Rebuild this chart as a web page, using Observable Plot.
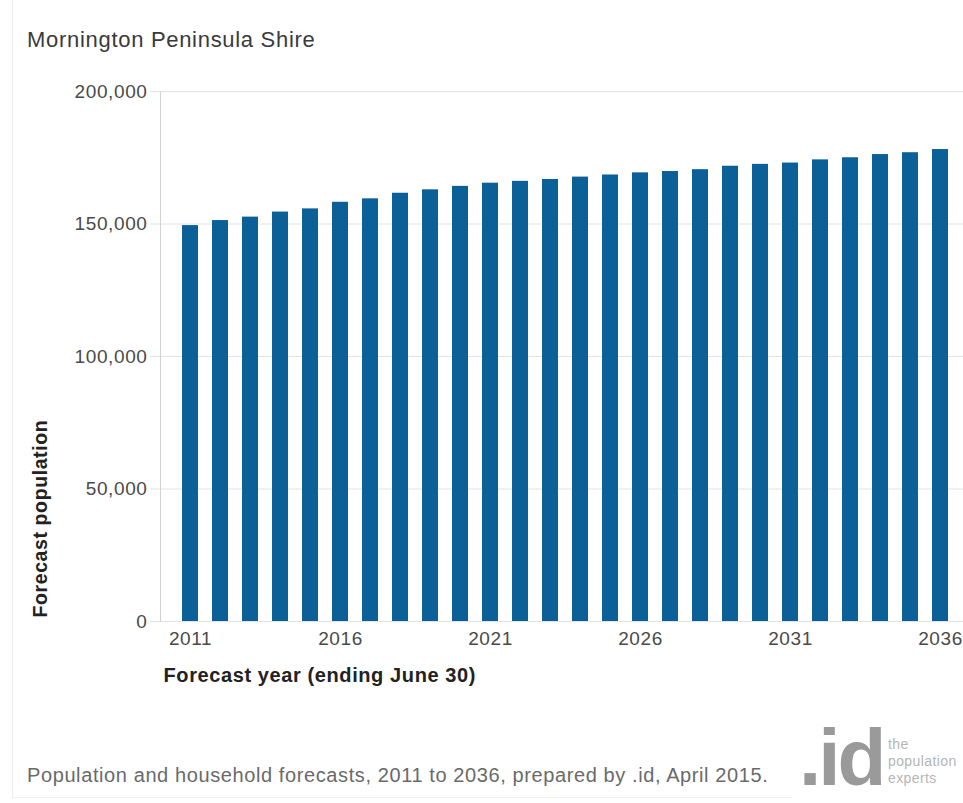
<!DOCTYPE html>
<html>
<head>
<meta charset="utf-8">
<script src="https://cdn.jsdelivr.net/npm/d3@7"></script>
<script src="https://cdn.jsdelivr.net/npm/@observablehq/plot@0.6"></script>
<style>
  html, body { margin: 0; padding: 0; background: #fff; }
  #wrap { position: relative; width: 963px; height: 803px; overflow: hidden; font-family: "Liberation Sans", Arial, sans-serif; }
  #border { position: absolute; left: 12px; top: 0; width: 0; height: 797px; border-left: 1px solid #ececec; }
  #bottomline { position: absolute; left: 12px; top: 797px; width: 780px; height: 0; border-top: 1px solid #f0f0f0; }
  #title { position: absolute; left: 27px; top: 27px; font-size: 22px; letter-spacing: 0.7px; color: #3a3a3a; white-space: nowrap; }
  #chart { position: absolute; left: 0; top: 70px; }
  #caption { position: absolute; left: 27px; top: 764px; font-size: 20px; letter-spacing: 0.6px; color: #6a6a6a; white-space: nowrap; }
  #logo { position: absolute; left: 799px; top: 712px; font-size: 80px; font-weight: bold; color: #9a9a9a; letter-spacing: -3px; line-height: normal; white-space: nowrap; }
  #tagline { position: absolute; left: 888px; top: 736px; font-size: 14px; line-height: 17px; letter-spacing: 0.4px; color: #b5b5b5; white-space: nowrap; }
</style>
</head>
<body>
<div id="wrap">
  <div id="border"></div>
  <div id="bottomline"></div>
  <div id="title">Mornington Peninsula Shire</div>
  <div id="chart"></div>
  <div id="caption">Population and household forecasts, 2011 to 2036, prepared by .id, April 2015.</div>
  <div id="logo">.id</div>
  <div id="tagline">the<br>population<br>experts</div>
</div>
<script>
const years = [2011, 2012, 2013, 2014, 2015, 2016, 2017, 2018, 2019, 2020, 2021, 2022, 2023,
               2024, 2025, 2026, 2027, 2028, 2029, 2030, 2031, 2032, 2033, 2034, 2035, 2036];
const population = [149400, 151300, 152600, 154500, 155700, 158200, 159500, 161600, 162900, 164200, 165400, 166100, 166800,
                    167700, 168500, 169300, 169800, 170500, 171800, 172500, 173000, 174200, 175000, 176200, 176900, 178100];
const xTicks = [2011, 2016, 2021, 2026, 2031, 2036];
const yTicks = [0, 50000, 100000, 150000, 200000];
const xTitle = "Forecast year (ending June 30)";
const yTitle = "Forecast population";

const data = years.map((y, i) => ({year: y, value: population[i]}));
const fmt = d3.format(",");

const chart = Plot.plot({
  width: 963,
  height: 640,
  marginTop: 21,
  marginBottom: 89,
  marginLeft: 160,
  marginRight: 0,
  style: {fontFamily: "'Liberation Sans', Arial, sans-serif", fontSize: "19px", letterSpacing: "0.6px", color: "#444", background: "transparent"},
  x: {type: "band", domain: years, paddingInner: 0.47, paddingOuter: 0.565, align: 0.59, label: null},
  y: {domain: [0, 200000], label: null},
  marks: [
    Plot.gridY(yTicks, {stroke: "#e2e2e2", strokeOpacity: 1}),
    Plot.frame({anchor: "left", stroke: "#d2d2d2"}),
    Plot.barY(data, {x: "year", y: "value", fill: "#0b6097"}),
    Plot.axisY(yTicks, {tickFormat: fmt, tickSize: 10, tickPadding: 3, stroke: "#e2e2e2", fill: "#4a4a4a", fontSize: 19}),
    Plot.axisX(xTicks, {tickFormat: (d) => String(d), tickSize: 0, tickPadding: 10, fill: "#4a4a4a", fontSize: 19}),
    Plot.text([xTitle], {frameAnchor: "bottom-left", textAnchor: "start", dx: 3, dy: 60, fontWeight: "bold", fontSize: 20, fill: "#222"}),
    Plot.text([yTitle], {frameAnchor: "bottom-left", textAnchor: "start", rotate: -90, dx: -114, dy: -4, fontWeight: "bold", fontSize: 19.5, fill: "#222"})
  ]
});
document.getElementById("chart").appendChild(chart);
</script>
</body>
</html>
